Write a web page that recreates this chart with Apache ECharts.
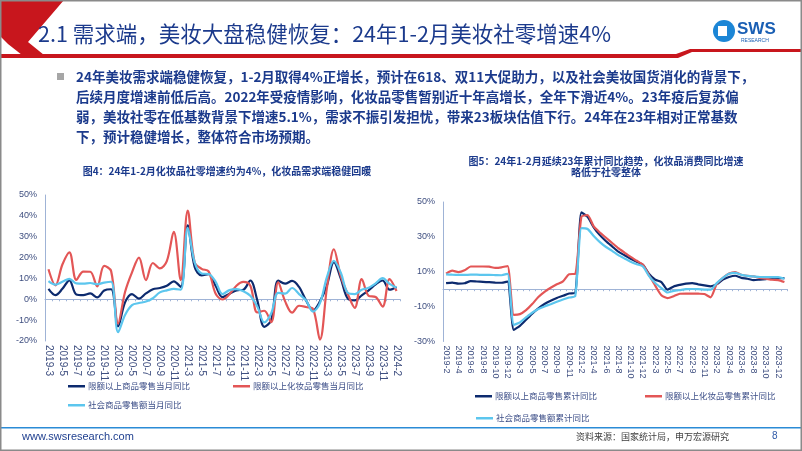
<!DOCTYPE html>
<html><head><meta charset="utf-8">
<script src="https://cdn.jsdelivr.net/npm/echarts@6/dist/echarts.min.js"></script>
<style>html,body{margin:0;padding:0;background:#fff}#c{width:802px;height:451px}</style>
</head><body><div id="c"></div><script>
// ---- left chart (monthly YoY) ----
const monthCats = ['2019-3','2019-4','2019-5','2019-6','2019-7','2019-8','2019-9','2019-10','2019-11','2019-12',
 '2020-3','2020-4','2020-5','2020-6','2020-7','2020-8','2020-9','2020-10','2020-11','2020-12',
 '2021-3','2021-4','2021-5','2021-6','2021-7','2021-8','2021-9','2021-10','2021-11','2021-12',
 '2022-3','2022-4','2022-5','2022-6','2022-7','2022-8','2022-9','2022-10','2022-11','2022-12',
 '2023-3','2023-4','2023-5','2023-6','2023-7','2023-8','2023-9','2023-10','2023-11','2023-12','2024-2'];
const limitMonthly = [5.0,2.0,5.0,9.1,2.3,2.0,2.8,0.9,4.2,4.8,
 -13.0,-1.5,2.5,0.3,2.8,4.8,5.4,6.5,8.6,5.9,
 35.4,15.5,11.5,12.0,6.5,1.0,2.7,4.3,4.6,9.0,
 -0.5,-13.2,-10.0,9.0,7.5,8.8,5.9,-0.5,-5.3,-1.0,
 6.7,17.8,9.9,0.3,-0.5,1.9,4.3,7.2,9.0,4.6,5.9];
const cosmMonthly = [14.4,6.7,16.7,22.5,9.3,13.3,13.2,6.2,16.0,13.5,
 -11.6,3.5,12.9,20.0,9.2,17.4,14.8,18.3,32.3,9.2,
 42.5,17.8,14.6,13.4,2.8,-0.1,2.4,6.5,8.3,6.5,
 -6.3,-5.5,-11.0,8.1,-1.0,-6.4,-3.1,-3.7,-4.6,-19.3,
 5.5,24.0,11.0,2.5,-4.1,9.7,1.6,1.1,-3.5,9.7,4.0];
const socialMonthly = [8.7,7.0,8.4,9.8,7.6,7.5,7.8,7.2,8.0,8.4,
 -15.8,-7.5,-2.8,-1.8,-1.1,0.5,3.3,4.3,5.0,4.6,
 34.2,17.7,12.4,12.1,8.5,2.5,4.4,4.9,3.9,1.7,
 -3.5,-11.1,-6.7,3.1,2.7,5.4,2.5,-0.5,-5.9,-1.8,
 10.6,18.4,12.7,3.1,2.5,4.6,5.5,7.6,10.1,7.4,5.5];

// ---- right chart (cumulative YoY) ----
const cumCats = ['2019-2','2019-3','2019-4','2019-5','2019-6','2019-7','2019-8','2019-9','2019-10','2019-11','2019-12',
 '2020-2','2020-3','2020-4','2020-5','2020-6','2020-7','2020-8','2020-9','2020-10','2020-11','2020-12',
 '2021-2','2021-3','2021-4','2021-5','2021-6','2021-7','2021-8','2021-9','2021-10','2021-11','2021-12',
 '2022-2','2022-3','2022-4','2022-5','2022-6','2022-7','2022-8','2022-9','2022-10','2022-11','2022-12',
 '2023-2','2023-3','2023-4','2023-5','2023-6','2023-7','2023-8','2023-9','2023-10','2023-11','2023-12','2024-2'];
const limitCum = [3.5,3.8,3.2,3.4,4.6,4.4,4.2,4.0,3.8,3.7,4.4,
 -23.3,-21.0,-17.5,-14.0,-11.0,-8.5,-6.6,-5.0,-3.8,-2.5,-2.2,
 44.0,41.5,35.5,31.0,27.5,24.5,21.5,19.5,17.5,15.7,14.0,
 8.7,5.4,4.1,-0.3,1.6,2.5,3.2,3.5,2.8,2.2,1.6,
 2.9,5.5,7.0,7.7,6.5,6.0,5.2,5.5,5.8,6.2,6.4,6.4];
const cosmCum = [8.9,10.6,9.8,10.8,13.0,13.0,13.0,12.9,12.2,12.5,13.3,
 -14.7,-14.3,-12.0,-8.5,-4.5,-1.5,0.8,2.8,4.5,8.6,8.8,
 41.5,42.5,36.0,32.5,29.5,26.5,23.5,21.0,18.5,16.3,14.0,
 8.0,2.0,-3.5,-5.1,-4.0,-2.6,-2.5,-2.5,-2.6,-2.8,-4.7,
 3.0,6.5,9.0,9.8,8.3,7.7,7.3,6.5,6.0,5.4,5.2,4.1];
const socialCum = [8.5,8.3,8.2,8.2,8.3,8.3,8.2,8.2,8.1,8.0,8.8,
 -20.5,-19.0,-16.2,-13.5,-11.4,-9.9,-8.6,-7.2,-5.9,-4.8,-3.9,
 35.0,34.5,30.5,27.0,24.2,22.0,19.5,17.6,15.8,14.3,13.0,
 7.5,3.5,0.6,-1.9,-1.0,-0.5,0.0,0.1,0.0,-0.2,-0.3,
 3.5,6.5,8.8,9.4,8.2,7.6,7.3,7.0,6.9,6.9,6.9,6.0];

const leftNames = ['限额以上商品零售当月同比','限额以上化妆品零售当月同比','社会商品零售额当月同比'];
const rightNames = ['限额以上商品零售累计同比','限额以上化妆品零售累计同比','社会商品零售额累计同比'];

const C_DARK = '#0c2a6e', C_RED = '#e35656', C_LIGHT = '#5cc6ee';
const TICK = '#3f4f80', AXIS = '#9fb3d6';
const FF = 'Liberation Sans, Arial, Noto Sans CJK SC, sans-serif';
const CJK = 'Noto Sans CJK SC, sans-serif';
const BLUE = '#1b3a8c';

function legendAt(name, left, top){
  return {data:[name], left:left, top:top, icon:'rect', itemWidth:17, itemHeight:2.5, itemGap:4,
    textStyle:{fontSize:8.5, color:'#3d4f88', fontFamily:CJK, padding:[0,0,0,-2]}, padding:0};
}
function xAx(grid, cats, fs){
  return {type:'category', gridIndex:grid, data:cats, boundaryGap:true,
    axisLine:{lineStyle:{color:AXIS, width:1}},
    axisTick:{show:true, interval:0, length:2, lineStyle:{color:AXIS}},
    axisLabel:{interval:1, rotate:-90, fontSize:fs, color:TICK, fontFamily:FF, margin:4}};
}
function yAx(grid, min, max, step){
  return {type:'value', gridIndex:grid, min:min, max:max, interval:step,
    splitLine:{show:false},
    axisLine:{show:true, lineStyle:{color:AXIS}},
    axisTick:{show:false},
    axisLabel:{formatter:'{value}%', fontSize:9, color:TICK, fontFamily:FF, margin:8}};
}
function ser(name, data, color, xi, smooth, w){
  return {type:'line', name:name, data:data, xAxisIndex:xi, yAxisIndex:xi, smooth:smooth,
    showSymbol:false, symbol:'none', lineStyle:{color:color, width:w}, itemStyle:{color:color}, z:3};
}

const bodyLines = [
 '24年美妆需求端稳健恢复，1-2月取得4%正增长，预计在618、双11大促助力，以及社会美妆国货消化的背景下，',
 '后续月度增速前低后高。2022年受疫情影响，化妆品零售暂别近十年高增长，全年下滑近4%。23年疫后复苏偏',
 '弱，美妆社零在低基数背景下增速5.1%，需求不振引发担忧，带来23板块估值下行。24年在23年相对正常基数',
 '下，预计稳健增长，整体符合市场预期。'];

const graphics = [
  // slide frame
  {type:'rect', shape:{x:0.75,y:0.75,width:800.5,height:449.5}, style:{fill:'none', stroke:'#8a8a8a', lineWidth:1.5}, z:10},
  // header red shapes
  {type:'polygon', shape:{points:[[0,0],[64,0],[28,42],[44,55],[22,55],[8,44],[0,36]]}, style:{fill:'#c8161d'}},
  {type:'polygon', shape:{points:[[0,54],[676,54],[690,49],[802,49],[802,52],[692,52],[678,58],[0,58]]}, style:{fill:'#c8161d'}},
  // title
  {type:'text', style:{text:'2.1 需求端，美妆大盘稳健恢复：24年1-2月美妆社零增速4%', x:38, y:34, textVerticalAlign:'middle',
    fontSize:21.5, fontFamily:CJK, fill:BLUE}},
  // logo
  {type:'circle', shape:{cx:724, cy:31, r:11}, style:{fill:'#1c86d6'}},
  {type:'rect', shape:{x:718, y:26, width:9, height:10}, style:{fill:'#fff'}},
  {type:'text', style:{text:'SWS', x:737, y:29, textVerticalAlign:'middle', fontSize:17, fontWeight:'bold', fontFamily:FF, fill:'#1a5fb4'}},
  {type:'text', style:{text:'RESEARCH', x:741, y:41, textVerticalAlign:'middle', fontSize:5, fontFamily:FF, fill:'#1a5fb4'}},
  // bullet
  {type:'rect', shape:{x:57, y:73, width:7, height:7}, style:{fill:'#a6a6a6'}},
  // chart titles
  {type:'text', style:{text:'图4：24年1-2月化妆品社零增速约为4%，化妆品需求端稳健回暖', x:227, y:171, textAlign:'center', textVerticalAlign:'middle',
    fontSize:10, fontWeight:'bold', fontFamily:CJK, fill:BLUE}},
  {type:'text', style:{text:'图5：24年1-2月延续23年累计同比趋势，化妆品消费同比增速', x:606, y:161, textAlign:'center', textVerticalAlign:'middle',
    fontSize:10, fontWeight:'bold', fontFamily:CJK, fill:BLUE}},
  {type:'text', style:{text:'略低于社零整体', x:606, y:172, textAlign:'center', textVerticalAlign:'middle',
    fontSize:10, fontWeight:'bold', fontFamily:CJK, fill:BLUE}},
  // footer
  {type:'rect', shape:{x:0, y:427, width:802, height:1.5}, style:{fill:'#2b8bd6'}},
  {type:'text', style:{text:'www.swsresearch.com', x:22, y:437, textVerticalAlign:'middle', fontSize:11, fontFamily:FF, fill:'#1f3f8f'}},
  {type:'text', style:{text:'资料来源：国家统计局，申万宏源研究', x:576, y:437, textVerticalAlign:'middle', fontSize:9, fontFamily:CJK, fill:'#404040'}},
  {type:'text', style:{text:'8', x:772, y:436, textVerticalAlign:'middle', fontSize:10, fontFamily:FF, fill:'#2f5aa8'}}
];
bodyLines.forEach((t,i)=>{
  graphics.push({type:'text', style:{text:t, x:76, y:77+i*20, textVerticalAlign:'middle', fontSize:13.5, fontWeight:'bold', fontFamily:CJK, fill:BLUE}});
});

const chart = echarts.init(document.getElementById('c'), null, {renderer:'canvas'});
chart.setOption({
  backgroundColor:'#fff',
  animation:false,
  grid:[
    {left:45, top:195, width:355, height:146},
    {left:443, top:202, width:344.5, height:139.5}
  ],
  xAxis:[xAx(0, monthCats, 10), xAx(1, cumCats, 9)],
  yAxis:[yAx(0,-20,50,10), yAx(1,-30,50,20)],
  legend:[
    legendAt(leftNames[0], 68, 382), legendAt(leftNames[1], 233, 382), legendAt(leftNames[2], 68, 401),
    legendAt(rightNames[0], 475, 392), legendAt(rightNames[1], 645, 392), legendAt(rightNames[2], 476, 414)
  ],
  series:[
    ser(leftNames[0], limitMonthly, C_DARK, 0, 0.35, 2.2),
    ser(leftNames[1], cosmMonthly, C_RED, 0, 0.35, 2.2),
    ser(leftNames[2], socialMonthly, C_LIGHT, 0, 0.35, 2.2),
    ser(rightNames[0], limitCum, C_DARK, 1, 0.2, 2.2),
    ser(rightNames[1], cosmCum, C_RED, 1, 0.2, 2.2),
    ser(rightNames[2], socialCum, C_LIGHT, 1, 0.2, 2.2)
  ],
  graphic:graphics
});
</script></body></html>
